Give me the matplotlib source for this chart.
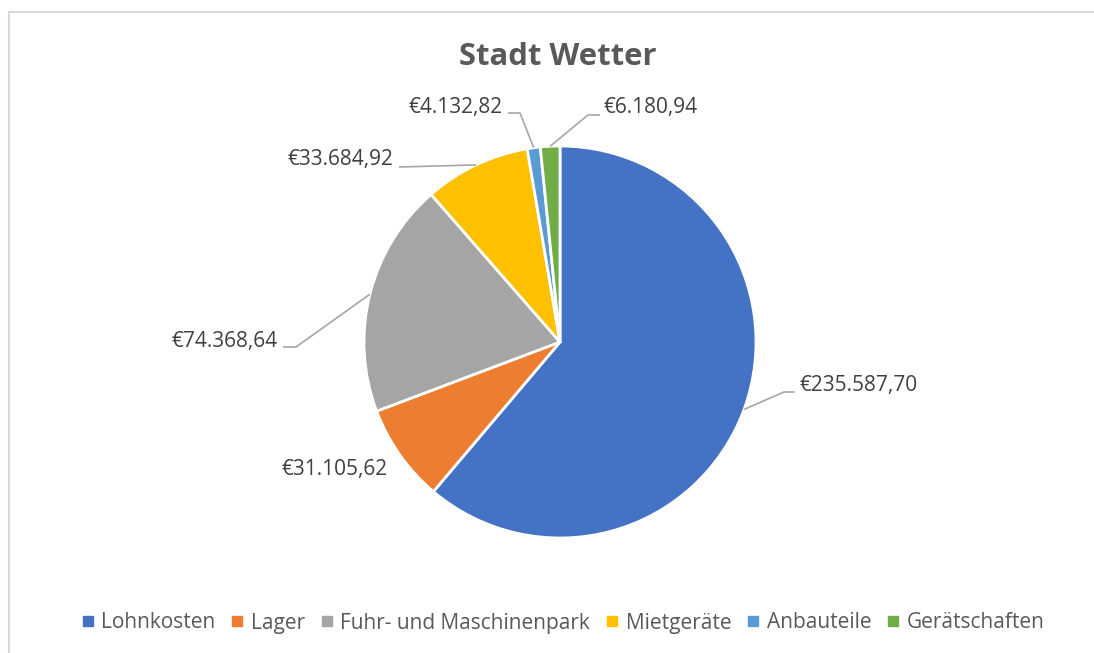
import matplotlib.pyplot as plt
from matplotlib.lines import Line2D
from matplotlib.patches import Rectangle
import numpy as np

# =============================
# Data
# =============================
categories = ["Lohnkosten", "Lager", "Fuhr- und Maschinenpark",
              "Mietgeräte", "Anbauteile", "Gerätschaften"]
values = [235587.70, 31105.62, 74368.64, 33684.92, 4132.82, 6180.94]
value_labels = ["€235.587,70", "€31.105,62", "€74.368,64",
                "€33.684,92", "€4.132,82", "€6.180,94"]
colors = ["#4472C4", "#ED7D31", "#A5A5A5", "#FFC000", "#5B9BD5", "#70AD47"]

# =============================
# Layout (pixel coords, origin top-left)
# =============================
W, H = 1094, 653
CX, CY, R = 560, 342, 196
# text x, text y, ha, leader points after the wedge anchor (None = no leader)
label_layout = [
    (800, 385, "left", [(784, 392), (795, 392)]),
    (335, 470, "center", None),
    (278, 342, "right", [(296, 347), (283, 347)]),
    (393, 160, "right", [(399, 167)]),
    (503, 107, "right", [(520, 113), (508, 113)]),
    (603, 108, "left", [(588, 115), (600, 115)]),
]

plt.rcParams['font.family'] = ['Open Sans', 'DejaVu Sans']

fig = plt.figure(figsize=(W / 100, H / 100), dpi=100)
ax = fig.add_axes([0, 0, 1, 1])

def fy(py):
    return H - py

# chart frame (runs past right/bottom edge)
ax.add_patch(Rectangle((9, -20), W + 20, fy(12) + 20, fill=False,
                       edgecolor="#D9D9D9", lw=1.5))

wedges, _ = ax.pie(values, colors=colors, startangle=90, counterclock=False,
                   center=(CX, fy(CY)), radius=R, frame=True,
                   wedgeprops=dict(edgecolor="white", linewidth=2))
ax.set_xlim(0, W)
ax.set_ylim(0, H)
ax.set_aspect("auto")
ax.axis("off")

for w, txt, (tx, ty, ha, pts) in zip(wedges, value_labels, label_layout):
    ang = np.deg2rad((w.theta1 + w.theta2) / 2)
    ax_x = CX + R * np.cos(ang)
    ax_y = fy(CY) + R * np.sin(ang)
    if pts is not None:
        xs = [ax_x] + [p[0] for p in pts]
        ys = [ax_y] + [fy(p[1]) for p in pts]
        ax.plot(xs, ys, color="#A6A6A6", lw=1.2, solid_capstyle="butt")
    ax.text(tx, fy(ty), txt, ha=ha, va="center", fontsize=15, color="#404040")

ax.text(558, fy(57), "Stadt Wetter", ha="center", va="center",
        fontsize=22.3, fontweight="bold", color="#595959")

handles = [Line2D([0], [0], marker="s", linestyle="none", markersize=6.5,
                  markerfacecolor=c, markeredgecolor=c) for c in colors]
fig.legend(handles, categories, loc="center", ncol=6,
           bbox_to_anchor=(563 / W, 1 - 623 / H), frameon=False,
           fontsize=15, labelcolor="#595959", handlelength=0.6,
           handletextpad=0.35, columnspacing=0.75)

fig.savefig("out.png", dpi=100)
